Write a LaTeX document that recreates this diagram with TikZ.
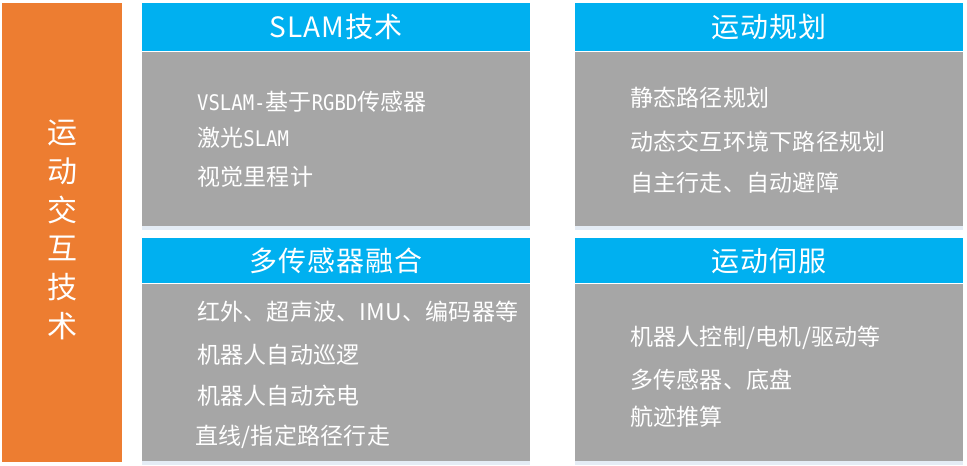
\documentclass[tikz,border=0pt]{standalone}
\usepackage{fontspec}
\setmainfont{Noto Sans CJK SC}
\setmonofont{DejaVu Sans Mono}
\newfontfamily\titlefont[LetterSpace=4]{Noto Sans CJK SC}
\newfontfamily\itemfont[LetterSpace=1]{Noto Sans CJK SC}
\newfontfamily\monolatin[FakeStretch=0.88]{DejaVu Sans Mono}
\usetikzlibrary{positioning}

\definecolor{sideorange}{HTML}{ED7D31}
\definecolor{headblue}{HTML}{00B0F0}
\definecolor{bodygray}{HTML}{A6A6A6}
\definecolor{shadowblue}{HTML}{E4ECF5}

\newcommand{\mlat}[1]{{\monolatin\fontsize{21.5}{21.5}\selectfont #1}}

\tikzset{
  sidebar/.style={fill=sideorange, minimum width=120pt, minimum height=459pt, inner sep=0pt, anchor=north west},
  sidetext/.style={text=white, align=center, inner sep=0pt, font=\fontsize{30}{38.8}\selectfont},
  headbox/.style={fill=headblue, text=white, minimum width=388pt, inner sep=0pt, anchor=north west, font=\titlefont\fontsize{28}{28}\selectfont},
  bodybox/.style={fill=bodygray, minimum width=388pt, inner sep=0pt},
  itemtext/.style={text=white, anchor=west, inner sep=0pt, font=\itemfont\fontsize{23}{23}\selectfont},
  shadowstrip/.style={fill=shadowblue}
}

\begin{document}
\begin{tikzpicture}[x=1pt, y=-1pt]
  \useasboundingbox (0,0) rectangle (967,466);

  % -- Side bar --
  \node[sidebar] (side) at (2,3) {};
  \node[sidetext] (sidelabel) at (62,230) {运\\动\\交\\互\\技\\术};

  % -- SLAM --
  \node[headbox, minimum height=48pt] (slamhead) at (142,3) {SLAM技术};
  \node[bodybox, minimum height=174pt, below=0pt of slamhead] (slambody) {};
  \fill[shadowstrip] (slambody.south west) rectangle ([yshift=-4pt]slambody.south east);
  \node[itemtext] (slamA) at (197,102) {\mlat{VSLAM-}基于\mlat{RGBD}传感器};
  \node[itemtext] (slamB) at (197,138) {激光\mlat{SLAM}};
  \node[itemtext] (slamC) at (197,177) {视觉里程计};

  % -- Multi-sensor fusion --
  \node[headbox, minimum height=45pt] (fusehead) at (142,238) {多传感器融合};
  \node[bodybox, minimum height=177pt, below=0pt of fusehead] (fusebody) {};
  \fill[shadowstrip] (fusebody.south west) rectangle ([yshift=-4pt]fusebody.south east);
  \node[itemtext] (fuseA) at (197,312) {红外、超声波、IMU、编码器等};
  \node[itemtext] (fuseB) at (197,355) {机器人自动巡逻};
  \node[itemtext] (fuseC) at (197,396) {机器人自动充电};
  \node[itemtext] (fuseD) at (195,437) {直线/指定路径行走};

  % -- Motion planning --
  \node[headbox, minimum height=48pt] (planhead) at (575,3) {运动规划};
  \node[bodybox, minimum height=174pt, below=0pt of planhead] (planbody) {};
  \fill[shadowstrip] (planbody.south west) rectangle ([yshift=-4pt]planbody.south east);
  \node[itemtext] (planA) at (630,98) {静态路径规划};
  \node[itemtext] (planB) at (630,142) {动态交互环境下路径规划};
  \node[itemtext] (planC) at (630,183) {自主行走、自动避障};

  % -- Motion servo --
  \node[headbox, minimum height=45pt] (servohead) at (575,238) {运动伺服};
  \node[bodybox, minimum height=177pt, below=0pt of servohead] (servobody) {};
  \fill[shadowstrip] (servobody.south west) rectangle ([yshift=-4pt]servobody.south east);
  \node[itemtext] (servoA) at (630,338) {机器人控制/电机/驱动等};
  \node[itemtext] (servoB) at (630,380) {多传感器、底盘};
  \node[itemtext] (servoC) at (630,417) {航迹推算};

\end{tikzpicture}
\end{document}
